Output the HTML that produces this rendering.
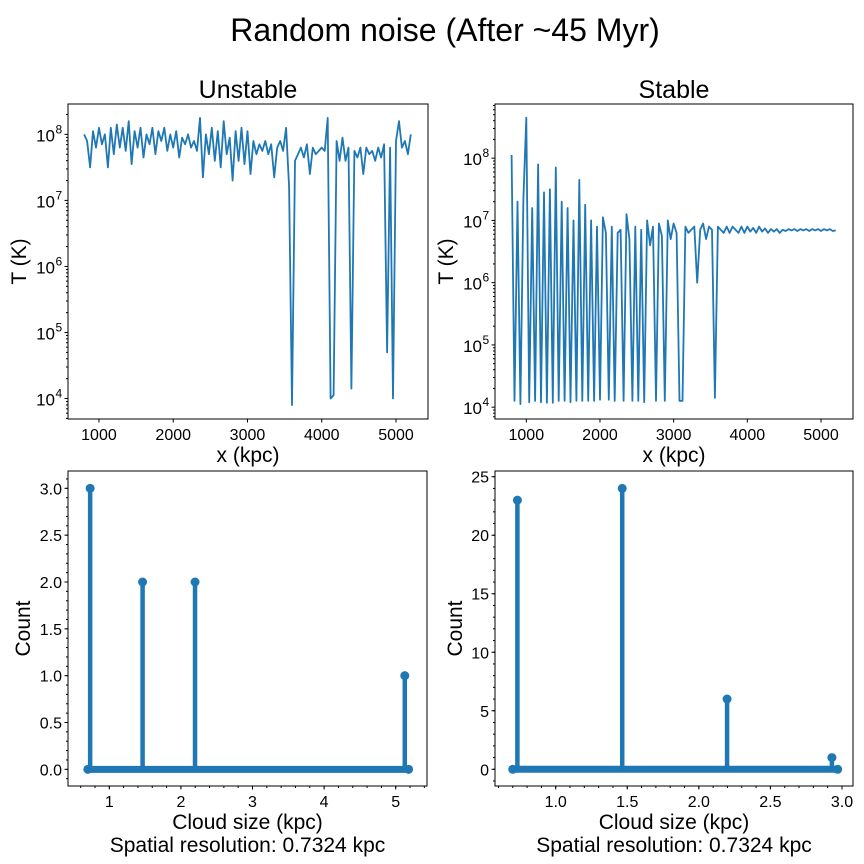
<!DOCTYPE html>
<html><head><meta charset="utf-8"><style>
body{margin:0;background:#fff;}
svg{display:block;font-family:"Liberation Sans","DejaVu Sans",sans-serif;}
</style></head><body>
<svg id="fig" width="864" height="864" viewBox="0 0 864 864">
<rect width="864" height="864" fill="#fff"/>
<text x="445" y="41" font-size="32" text-anchor="middle" fill="#000">Random noise (After ~45 Myr)</text>
</svg>
<script>
// ---- data ----
const unstableX0 = 800, unstableX1 = 5200;
const unstableLogT = [8.0,7.9,7.5,8.05,7.8,8.1,7.85,8.0,7.5,8.1,7.7,8.15,7.8,8.1,7.75,8.2,7.55,8.05,7.8,8.1,7.65,8.0,7.85,8.1,7.7,8.05,7.9,8.1,7.75,8.0,7.8,8.05,7.65,7.95,7.85,8.0,7.8,7.9,7.75,8.25,7.35,8.0,7.7,8.1,7.6,8.05,7.5,8.2,7.7,7.95,7.3,8.05,7.6,8.1,7.55,8.05,7.4,7.9,7.7,7.85,7.75,7.9,7.7,7.85,7.35,7.8,7.9,7.75,8.1,7.2,3.9,7.6,7.7,7.8,7.65,7.85,7.4,7.8,7.7,7.75,7.8,7.75,8.25,4.0,4.05,7.9,7.6,7.95,7.6,7.8,4.15,7.75,7.65,7.8,7.4,7.8,7.7,7.75,7.6,7.8,7.65,7.85,4.7,7.8,4.0,7.9,8.2,7.8,7.9,7.7,8.0];
const stableX0 = 800, stableX1 = 5200;
const stableLogT = [8.05,4.1,7.3,4.05,7.35,8.65,4.08,7.2,4.1,7.9,4.08,7.45,4.07,7.5,4.07,7.85,4.1,7.3,4.1,7.2,4.08,7.0,4.1,7.65,4.1,7.25,4.1,7.0,4.1,6.9,4.12,7.05,6.8,4.12,6.9,4.1,6.8,6.85,4.1,7.1,6.7,4.1,6.9,4.1,6.85,4.08,7.0,6.6,6.9,4.1,6.95,6.75,4.1,7.0,6.7,6.95,6.8,4.1,4.1,6.9,6.8,6.85,6.9,6.0,6.85,6.95,6.7,6.9,6.85,4.15,6.9,6.85,6.8,6.9,6.8,6.9,6.85,6.8,6.9,6.8,6.9,6.82,6.88,6.8,6.9,6.82,6.87,6.8,6.86,6.82,6.86,6.8,6.85,6.83,6.86,6.84,6.86,6.83,6.86,6.84,6.86,6.83,6.86,6.84,6.86,6.83,6.86,6.84,6.86,6.83,6.84];
const unstableSizes = [0.7324,1.4648,2.1972,5.1268];
const unstableCounts = [3,2,2,1];
const stableSizes = [0.7324,1.4648,2.1972,2.9296];
const stableCounts = [23,24,6,1];
const topXTicks = [1000,2000,3000,4000,5000];
const logYTicks = [4,5,6,7,8];
const blXTicks = [1,2,3,4,5];
const blYTicks = [0,0.5,1.0,1.5,2.0,2.5,3.0];
const brXTicks = [1.0,1.5,2.0,2.5,3.0];
const brYTicks = [0,5,10,15,20,25];

const NS = "http://www.w3.org/2000/svg";
const fig = document.getElementById('fig');
const C = "#1f77b4";
function el(tag, attrs, parent){const e=document.createElementNS(NS,tag);for(const k in attrs)e.setAttribute(k,attrs[k]);(parent||fig).appendChild(e);return e;}
function txt(s,attrs,parent){const e=el('text',attrs,parent);e.textContent=s;return e;}

function makeAxes(name, box, xr, yr){
  const g=el('g',{});
  
  
  const sx=v=>box.x0+(v-xr[0])/(xr[1]-xr[0])*(box.x1-box.x0);
  const sy=v=>box.y1-(v-yr[0])/(yr[1]-yr[0])*(box.y1-box.y0);
  return {g,sx,sy,box};
}
function frame(a){
  const r=el('rect',{x:a.box.x0,y:a.box.y0,width:a.box.x1-a.box.x0,height:a.box.y1-a.box.y0,fill:'none',stroke:'#000','stroke-width':1},a.g);
  
  
}
function xTicks(a,ticks,fmt,minors){
  minors.forEach(v=>{const x=a.sx(v);if(x<a.box.x0||x>a.box.x1)return;el('line',{x1:x,x2:x,y1:a.box.y1,y2:a.box.y1+2,stroke:'#000'},a.g);});
  ticks.forEach(v=>{const x=a.sx(v);el('line',{x1:x,x2:x,y1:a.box.y1,y2:a.box.y1+3.5,stroke:'#000'},a.g);
    const t=txt(fmt(v),{x:x,y:a.box.y1+21,'font-size':16,'text-anchor':'middle',fill:'#000'},a.g);
    
    });
}
function yTicks(a,ticks,fmt,minors){
  minors.forEach(v=>{const y=a.sy(v);if(y<a.box.y0||y>a.box.y1)return;el('line',{x1:a.box.x0-2,x2:a.box.x0,y1:y,y2:y,stroke:'#000'},a.g);});
  ticks.forEach(v=>{const y=a.sy(v);el('line',{x1:a.box.x0-3.5,x2:a.box.x0,y1:y,y2:y,stroke:'#000'},a.g);
    const t=txt(fmt(v),{x:a.box.x0-6,y:y+6,'font-size':16,'text-anchor':'end',fill:'#000'},a.g);
    
    });
}
function logLabels(a,ticks){
  ticks.forEach(v=>{const y=a.sy(v);el('line',{x1:a.box.x0-3.5,x2:a.box.x0,y1:y,y2:y,stroke:'#000'},a.g);
    const t=txt('10',{x:a.box.x0-13,y:y+7,'font-size':17,'text-anchor':'end',fill:'#000'},a.g);
    
    
    const s=txt(String(v),{x:a.box.x0-12.5,y:y-1,'font-size':12,fill:'#000'},a.g);
    
    });
  const minors=[];for(let d=3;d<9;d++)for(let k=2;k<10;k++)minors.push(d+Math.log10(k));
  minors.forEach(v=>{const y=a.sy(v);if(y<a.box.y0||y>a.box.y1)return;el('line',{x1:a.box.x0-2,x2:a.box.x0,y1:y,y2:y,stroke:'#000'},a.g);});
}
function labels(a,title,xl,yl,extra,ytx){
  const cx=(a.box.x0+a.box.x1)/2, cy=(a.box.y0+a.box.y1)/2;
  if(title){const t=txt(title,{x:cx,y:a.box.y0-6,'font-size':25,'text-anchor':'middle',fill:'#000'},a.g);}
  const xt=txt(xl,{x:cx,y:a.box.y1+43,'font-size':21,'text-anchor':'middle',fill:'#000'},a.g);
  
  if(extra){const e=txt(extra,{x:cx,y:a.box.y1+66,'font-size':21,'text-anchor':'middle',fill:'#000'},a.g);}
  const yt=txt(yl,{x:0,y:0,'font-size':21,'text-anchor':'middle',fill:'#000',transform:`translate(${ytx},${cy}) rotate(-90)`},a.g);
  
}
function rng(a,b,s){const r=[];for(let v=a;v<=b+1e-9;v+=s)r.push(+v.toFixed(4));return r;}

function linePlot(a,x0,x1,vals,name){
  const n=vals.length;
  const pts=vals.map((v,i)=>a.sx(x0+(x1-x0)*i/(n-1)).toFixed(1)+','+a.sy(v).toFixed(1)).join(' ');
  const p=el('polyline',{points:pts,fill:'none',stroke:C,'stroke-width':1.8,'stroke-linejoin':'round'},a.g);
  
  
}
function stemPlot(a,sizes,counts,xmin,xmax){
  const base=el('line',{x1:a.sx(xmin),x2:a.sx(xmax),y1:a.sy(0),y2:a.sy(0),stroke:C,'stroke-width':7},a.g);
  
  
  [xmin,xmax].forEach(v=>{el('circle',{cx:a.sx(v),cy:a.sy(0),r:4.5,fill:C},a.g);});
  sizes.forEach((s,i)=>{
    const st=el('line',{x1:a.sx(s),x2:a.sx(s),y1:a.sy(0),y2:a.sy(counts[i]),stroke:C,'stroke-width':4.5},a.g);
    
    
    const m=el('circle',{cx:a.sx(s),cy:a.sy(counts[i]),r:4.5,fill:C},a.g);
    
    
  });
}

// top-left
const tl=makeAxes('unstable-temperature-plot',{x0:68,x1:428,y0:104,y1:419},[583,5431],[3.69,8.46]);
linePlot(tl,unstableX0,unstableX1,unstableLogT,'unstable-temperature-line');
frame(tl);xTicks(tl,topXTicks,v=>String(v),[]);logLabels(tl,logYTicks);labels(tl,'Unstable','x (kpc)','T (K)',null,26);
// top-right
const tr=makeAxes('stable-temperature-plot',{x0:495,x1:853,y0:104,y1:419},[1000-(526.3-495)/0.07367,5000+(853-821)/0.07367],[3.81,8.87]);
linePlot(tr,stableX0,stableX1,stableLogT,'stable-temperature-line');
frame(tr);xTicks(tr,topXTicks,v=>String(v),[]);logLabels(tr,logYTicks);labels(tr,'Stable','x (kpc)','T (K)',null,453);
// bottom-left
const bl=makeAxes('unstable-cloud-size-plot',{x0:68,x1:427,y0:471,y1:786},[0.423,5.437],[-0.178,3.185]);
stemPlot(bl,unstableSizes,unstableCounts,0.70,5.18);
frame(bl);xTicks(bl,blXTicks,v=>String(v),rng(0.4,5.4,0.2));yTicks(bl,blYTicks,v=>v.toFixed(1),rng(-0.1,3.1,0.1));
labels(bl,null,'Cloud size (kpc)','Count','Spatial resolution: 0.7324 kpc',30);
// bottom-right
const br=makeAxes('stable-cloud-size-plot',{x0:495,x1:853,y0:471,y1:786},[0.576,3.077],[-1.43,25.49]);
stemPlot(br,stableSizes,stableCounts,0.70,2.97);
frame(br);xTicks(br,brXTicks,v=>v.toFixed(1),rng(0.6,3.0,0.1));yTicks(br,brYTicks,v=>String(v),rng(-1,25,1));
labels(br,null,'Cloud size (kpc)','Count','Spatial resolution: 0.7324 kpc',462);
</script>
</body></html>
